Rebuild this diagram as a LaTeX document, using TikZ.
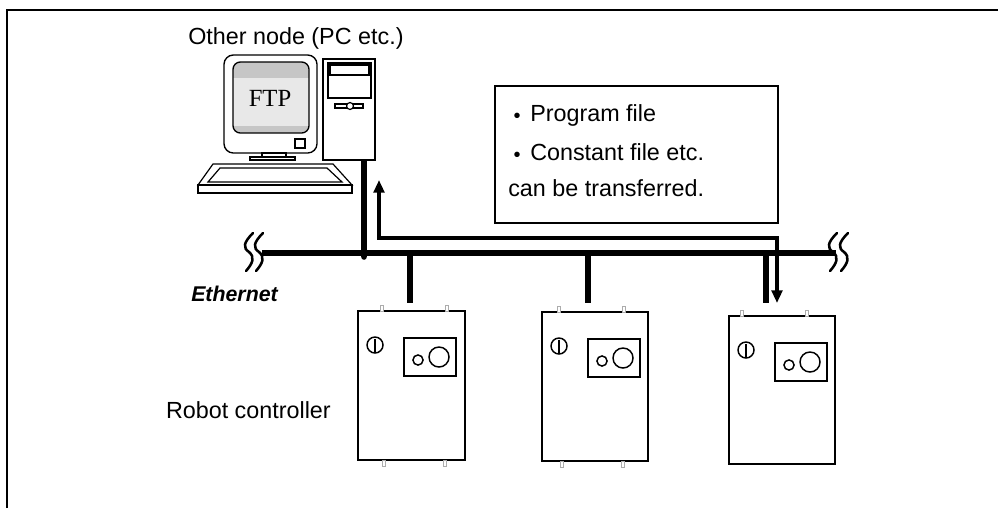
\documentclass[tikz,border=0pt]{standalone}
\usepackage{fontspec}
\setmainfont{Liberation Sans}
\newfontfamily\ftpfont{Liberation Serif}
\usetikzlibrary{arrows.meta,calc}

\begin{document}
\begin{tikzpicture}[x=0.75pt,y=-0.75pt,
  frame/.style={line width=1.8pt},
  outline/.style={draw, line width=0.9pt},
  ctrlbox/.style={draw, fill=white, line width=1.4pt, inner sep=0pt, outer sep=0pt},
  busline/.style={line width=4.6pt},
  dropline/.style={line width=5pt},
  cable/.style={line width=3.8pt},
  flow/.style={line width=3pt, line join=miter,
    {Triangle[length=9.5pt,width=8pt]}-{Triangle[length=9.5pt,width=8pt]}},
  squig/.style={line width=1.9pt, line cap=round},
  pin/.style={draw=gray!65, fill=white, line width=0.5pt},
  txt/.style={font=\fontsize{17.5}{20}\selectfont, inner sep=0pt},
  bul/.style={font=\fontsize{15}{16}\selectfont, inner sep=0pt},
]
\useasboundingbox (0,0) rectangle (998,508);

% page frame (top and left rules)
\coordinate (frameTL) at (7,10);
\draw[frame] (7,508) -- (frameTL) -- (998,10);

% ---------- PC: monitor ----------
\node[draw, rounded corners=7pt, line width=1pt, minimum width=69.75pt,
      minimum height=73.5pt, inner sep=0pt] (mon) at (270.5,104) {};
\begin{scope}
  \clip[rounded corners=5.5pt] (233,62) rectangle (309,133);
  \fill[gray!18] (233,62) rectangle (309,133);
  \fill[gray!45] (233,62) rectangle (309,78);
  \fill[gray!45] (233,126) rectangle (309,133);
\end{scope}
\draw[line width=1pt, rounded corners=5.5pt] (233,62) rectangle (309,133);
\node[font=\ftpfont\fontsize{18.5}{20}\selectfont, inner sep=0pt] (ftp) at (270,98) {FTP};
\draw[outline] (295,139) rectangle (305,148);
% stand
\draw[outline] (262,153) rectangle (286,157);
\draw[outline] (250,157) rectangle (295,160);
% keyboard
\draw[outline, fill=white] (213,164) -- (333,164) -- (352,185) -- (198,185) -- cycle;
\draw[outline] (198,185) rectangle (352,193);
\draw[outline] (220,168) -- (327,168) -- (342,182) -- (208,182) -- cycle;

% ---------- PC: tower ----------
\coordinate (tap) at (364,257);
\draw[cable] (364,158) -- (tap);
\fill (tap) circle (2.1pt);
\node[draw, fill=white, line width=1pt, minimum width=39pt, minimum height=75.75pt,
      inner sep=0pt] (tower) at (349,109.5) {};
\draw[outline] (328,63) rectangle (371,98);
\draw[outline] (330,65) rectangle (369,75);
\draw[outline] (335,104) rectangle (363,108);
\draw[outline, fill=white] (350,106) circle (2.6pt);

\node[txt, anchor=base west] (pclabel) at (188,44) {Other node (PC etc.)};

% ---------- info box ----------
\node[draw, line width=1pt, minimum width=212.25pt, minimum height=102.75pt,
      inner sep=0pt] (info) at (636.5,154.5) {};
\node[bul] (b1) at (517,118) {•};
\node[txt, anchor=base west] (t1) at (530,121.7) {Program file};
\node[bul] (b2) at (517,156.5) {•};
\node[txt, anchor=base west] (t2) at (530,160) {Constant file etc.};
\node[txt, anchor=base west] (t3) at (508,196.7) {can be transferred.};

% ---------- Ethernet bus ----------
\coordinate (busL) at (262,253);
\coordinate (busR) at (836,253);
\draw[busline] (busL) -- (busR);
% break marks
\foreach \X in {249,259,833,844}{
  \draw[squig] (\X+4,233) .. controls (\X-6,243) and (\X-6,248) .. (\X,252)
               .. controls (\X+6,257) and (\X+4,263) .. (\X-3,271);
}
\node[txt, font=\bfseries\itshape\fontsize{16}{18}\selectfont, anchor=base west]
  (eth) at (191,301.7) {Ethernet};

% ---------- robot controllers ----------
\foreach \n/\cx/\cy/\w/\h in {1/358/311/80.25pt/111.75pt,
                               2/542/312/79.5pt/111.75pt,
                               3/729/316/79.5pt/111pt}{
  \node[ctrlbox, minimum width=\w, minimum height=\h, anchor=north west]
    (c\n) at (\cx,\cy) {};
  \begin{scope}[shift={(c\n.north west)}]
    \draw[line width=1.1pt] (17,34) circle (6pt);
    \draw[line width=1.1pt] (17,27.5) -- (17,40.5);
    \draw[line width=1.3pt] (46,27) rectangle (98,65);
    \draw[line width=1.1pt] (60,49) circle (3.8pt);
    \draw[line width=1.1pt] (81,46) circle (7.5pt);
  \end{scope}
}
% mounting tabs
\foreach \px/\py in {382/305, 447/305, 559/306, 624/306, 742/310, 807/310,
                     384/460, 445/460, 562/461, 623/461}{
  \draw[pin] (\px-1.5,\py) rectangle (\px+1.5,\py+6);
}

\node[txt, anchor=base east] (rclabel) at (331,418) {Robot controller};

% drops from the bus
\coordinate (d1) at (410,253);
\coordinate (d2) at (588,253);
\coordinate (d3) at (766,250);
\draw[dropline] (d1) -- ($(d1 |- c1.north)+(0,-8)$);
\draw[dropline] (d2) -- ($(d2 |- c2.north)+(0,-9)$);
\draw[dropline] (d3) -- ($(d3 |- c3.north)+(0,-13)$);

% transfer route
\coordinate (upTip) at (379,180);
\coordinate (bend1) at (379,238);
\coordinate (bend2) at (777,238);
\coordinate (downTip) at (777,303);
\draw[flow] (upTip) -- (bend1) -- (bend2) -- (downTip);
\end{tikzpicture}
\end{document}
